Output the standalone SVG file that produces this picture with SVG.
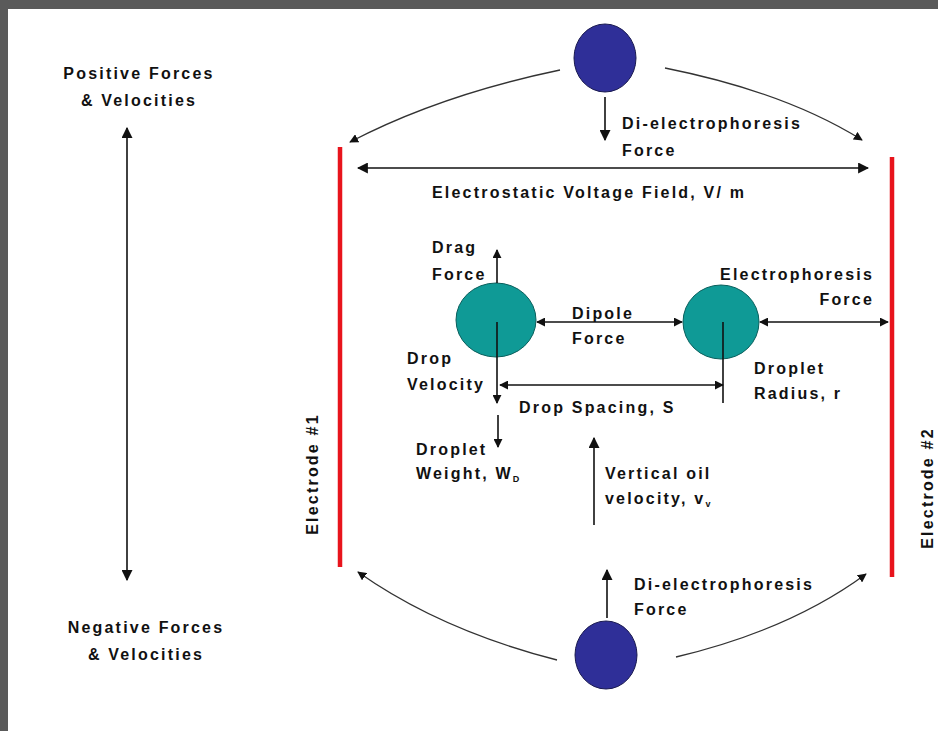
<svg xmlns="http://www.w3.org/2000/svg" width="938" height="731" viewBox="0 0 938 731">
<style>
text{font-family:"Liberation Sans",Arial,sans-serif;font-weight:bold;font-size:16px;letter-spacing:2.2px;fill:#111}
.ln{stroke:#111;stroke-width:1.6;fill:none}
.arc{stroke:#333;stroke-width:1.3;fill:none}
.el{stroke:#e8141c;stroke-width:4.5}
.blue{fill:#2f2f98;stroke:#1a1a50;stroke-width:1}
.teal{fill:#0f9a96;stroke:#0a5f5c;stroke-width:1}
</style>
<defs>
<marker id="ah" viewBox="0 0 10 10" refX="9" refY="5" markerWidth="9" markerHeight="9" markerUnits="userSpaceOnUse" orient="auto-start-reverse"><path d="M0,0 L10,5 L0,10 z" fill="#111"/></marker>
<marker id="ahs" viewBox="0 0 10 10" refX="9" refY="5" markerWidth="11" markerHeight="11" markerUnits="userSpaceOnUse" orient="auto-start-reverse"><path d="M0,0 L10,5 L0,10 z" fill="#111"/></marker>
</defs>
<rect x="0" y="0" width="938" height="731" fill="#5a5a5a"/>
<rect x="8" y="9" width="930" height="722" fill="#fff"/>

<g id="electrode1"><line class="el" x1="340" y1="147" x2="340" y2="567"/><text transform="translate(318,474) rotate(-90)" text-anchor="middle">Electrode #1</text></g>
<g id="electrode2"><line class="el" x1="892" y1="157" x2="892" y2="577"/><text transform="translate(933,488) rotate(-90)" text-anchor="middle">Electrode #2</text></g>

<g id="top-particle"><ellipse class="blue" cx="605" cy="58" rx="31" ry="34"/></g>
<g id="bottom-particle"><ellipse class="blue" cx="606" cy="655" rx="31" ry="34"/></g>
<g id="drop1"><ellipse class="teal" cx="496" cy="320" rx="40" ry="37"/></g>
<g id="drop2"><ellipse class="teal" cx="721" cy="322" rx="38" ry="37"/></g>

<g id="labels">
<text x="139" y="79" text-anchor="middle">Positive Forces</text>
<text x="139" y="106" text-anchor="middle">&amp; Velocities</text>
<text x="146" y="633" text-anchor="middle">Negative Forces</text>
<text x="146" y="660" text-anchor="middle">&amp; Velocities</text>
<text x="622" y="129">Di-electrophoresis</text>
<text x="622" y="156">Force</text>
<text x="432" y="198">Electrostatic Voltage Field, V/ m</text>
<text x="432" y="253">Drag</text>
<text x="432" y="280">Force</text>
<text x="874" y="280" text-anchor="end">Electrophoresis</text>
<text x="874" y="305" text-anchor="end">Force</text>
<text x="572" y="319">Dipole</text>
<text x="572" y="344">Force</text>
<text x="407" y="364">Drop</text>
<text x="407" y="390">Velocity</text>
<text x="754" y="374">Droplet</text>
<text x="754" y="399">Radius, r</text>
<text x="519" y="413">Drop Spacing, S</text>
<text x="416" y="455">Droplet</text>
<text x="416" y="479">Weight, W<tspan font-size="9" dy="3">D</tspan></text>
<text x="605" y="479">Vertical oil</text>
<text x="605" y="504">velocity, v<tspan font-size="9" dy="3">v</tspan></text>
<text x="634" y="590">Di-electrophoresis</text>
<text x="634" y="615">Force</text>
</g>

<g id="connectors">
<line class="ln" x1="127" y1="128" x2="127" y2="580" marker-start="url(#ahs)" marker-end="url(#ahs)"/>
<path class="arc" d="M560,70 Q440,95 350,142" marker-end="url(#ah)"/>
<path class="arc" d="M665,68 Q785,92 862,140" marker-end="url(#ah)"/>
<path class="arc" d="M557,660 Q440,630 358,572" marker-end="url(#ah)"/>
<path class="arc" d="M676,657 Q790,630 866,574" marker-end="url(#ah)"/>
<line class="ln" x1="605" y1="97" x2="605" y2="140" marker-end="url(#ahs)"/>
<line class="ln" x1="607" y1="618" x2="607" y2="570" marker-end="url(#ahs)"/>
<line class="ln" x1="358" y1="168" x2="868" y2="168" marker-start="url(#ahs)" marker-end="url(#ahs)"/>
<line class="ln" x1="497" y1="283" x2="497" y2="250" marker-end="url(#ah)"/>
<line class="ln" x1="537" y1="322" x2="682" y2="322" marker-start="url(#ah)" marker-end="url(#ah)"/>
<line class="ln" x1="760" y1="322" x2="888" y2="322" marker-start="url(#ah)" marker-end="url(#ah)"/>
<line class="ln" x1="497" y1="322" x2="497" y2="403" marker-end="url(#ah)"/>
<line class="ln" x1="723" y1="322" x2="723" y2="403"/>
<line class="ln" x1="500" y1="385" x2="723" y2="385" marker-start="url(#ah)" marker-end="url(#ah)"/>
<line class="ln" x1="498" y1="415" x2="498" y2="447" marker-end="url(#ah)"/>
<line class="ln" x1="594" y1="525" x2="594" y2="438" marker-end="url(#ahs)"/>
</g>
</svg>
